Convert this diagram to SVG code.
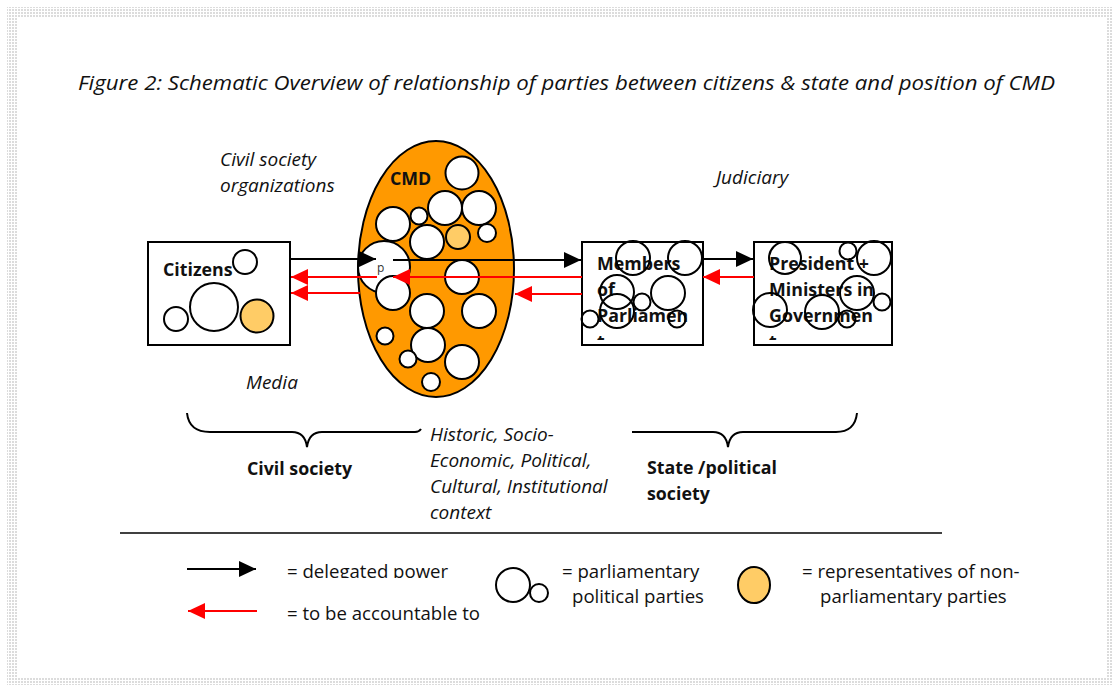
<svg xmlns="http://www.w3.org/2000/svg" width="1112" height="685" viewBox="0 0 1112 685">
<defs>
<style>
text{font-family:"Open Sans","Noto Sans","Liberation Sans",sans-serif;fill:#111;}
.t{font-size:18.6px;}
.i{font-size:19px;font-style:italic;}
.b{font-size:17.8px;font-weight:bold;}
.box{fill:#fff;stroke:#000;stroke-width:2;}
.c{fill:#fff;stroke:#000;stroke-width:2;}
.co{fill:none;stroke:#000;stroke-width:2;}
.or{fill:#FFCC66;stroke:#000;stroke-width:2;}
.blk{stroke:#000;stroke-width:2;fill:none;}
.red{stroke:#FF0000;stroke-width:2;fill:none;}
.brace{stroke:#000;stroke-width:2;fill:none;}
</style>
<pattern id="dots" width="3" height="3" patternUnits="userSpaceOnUse">
<rect x="0" y="0" width="2" height="2" fill="#dcdcdc"/>
</pattern>
<marker id="ab" markerUnits="userSpaceOnUse" markerWidth="18" markerHeight="16" refX="17" refY="8" orient="auto">
<path d="M0,0 L17,8 L0,16 Z" fill="#000"/>
</marker>
<marker id="ar" markerUnits="userSpaceOnUse" markerWidth="18" markerHeight="16" refX="17" refY="8" orient="auto">
<path d="M0,0 L17,8 L0,16 Z" fill="#FF0000"/>
</marker>
<clipPath id="mpclip"><rect x="583" y="243" width="119" height="97"/></clipPath>
<clipPath id="prclip"><rect x="755" y="243" width="136" height="97"/></clipPath>
<clipPath id="lgclip"><rect x="280" y="550" width="200" height="28"/></clipPath>
</defs>
<rect width="1112" height="685" fill="#fff"/>
<path d="M7,7 H1112 V685 H7 Z M18,18 V678 H1107 V18 Z" fill="url(#dots)" fill-rule="evenodd"/>

<text id="title" x="78" y="90" style="font-size:20px;font-style:italic" textLength="977" lengthAdjust="spacingAndGlyphs">Figure 2: Schematic Overview of relationship of parties between citizens &amp; state and position of CMD</text>

<g id="labels">
<text class="i" x="220" y="166">Civil society</text>
<text class="i" x="220" y="192">organizations</text>
<text class="i" x="246" y="389">Media</text>
<text class="i" x="716" y="184">Judiciary</text>
</g>

<g id="citizens">
<rect class="box" x="148" y="242" width="142" height="103"/>
<text class="b" x="163" y="276">Citizens</text>
<circle class="c" cx="245" cy="262" r="12"/>
<circle class="c" cx="214" cy="307" r="24"/>
<circle class="c" cx="176" cy="319" r="12"/>
<circle class="or" cx="257" cy="316" r="16.5"/>
</g>

<g id="cmd">
<ellipse cx="436" cy="269" rx="78" ry="128" fill="#FF9900" stroke="#000" stroke-width="2"/>
<text class="b" x="390" y="185">CMD</text>
<circle class="c" cx="462" cy="173" r="16.5"/>
<circle class="c" cx="445" cy="208" r="17"/>
<circle class="c" cx="479" cy="208" r="17"/>
<circle class="c" cx="419" cy="216" r="8.5"/>
<circle class="c" cx="393" cy="224" r="17"/>
<circle class="c" cx="427" cy="242" r="17"/>
<circle class="or" cx="458" cy="237" r="12"/>
<circle class="c" cx="487" cy="233" r="9"/>
<circle class="c" cx="384" cy="267" r="26"/>
<circle class="c" cx="393" cy="293" r="17"/>
<circle class="c" cx="462" cy="277" r="17"/>
<circle class="c" cx="427" cy="311" r="17"/>
<circle class="c" cx="479" cy="311" r="17"/>
<circle class="c" cx="385" cy="336" r="8.5"/>
<circle class="c" cx="428" cy="345" r="17"/>
<circle class="c" cx="408" cy="359" r="8.5"/>
<circle class="c" cx="462" cy="362" r="17"/>
<circle class="c" cx="431" cy="382" r="9"/>
<text x="377" y="272" style="font-size:12px;fill:#333">p</text>
</g>

<g id="mp">
<rect class="box" x="582" y="242" width="121" height="103"/>
<g clip-path="url(#mpclip)">
<text class="b" x="597" y="270">Members</text>
<text class="b" x="597" y="296">of</text>
<text class="b" x="597" y="322">Parliamen</text>
<text class="b" x="597" y="348">t</text>
</g>
<circle class="co" cx="633" cy="258" r="17"/>
<circle class="co" cx="685" cy="258" r="17"/>
<circle class="co" cx="617" cy="292" r="17"/>
<circle class="co" cx="668" cy="293" r="17"/>
<circle class="co" cx="642" cy="302" r="8.5"/>
<circle class="co" cx="617" cy="311" r="17"/>
<circle class="co" cx="590" cy="319" r="8.5"/>
<circle class="co" cx="677" cy="319" r="8.5"/>
</g>

<g id="president">
<rect class="box" x="754" y="242" width="138" height="103"/>
<g clip-path="url(#prclip)">
<text class="b" x="769" y="270">President +</text>
<text class="b" x="769" y="296">Ministers in</text>
<text class="b" x="769" y="322">Governmen</text>
<text class="b" x="769" y="348">t</text>
</g>
<circle class="co" cx="785" cy="258" r="16"/>
<circle class="co" cx="848" cy="251" r="8.5"/>
<circle class="co" cx="874" cy="258" r="17"/>
<circle class="co" cx="857" cy="293" r="17"/>
<circle class="co" cx="882" cy="302" r="8.5"/>
<circle class="co" cx="770" cy="310" r="17"/>
<circle class="co" cx="822" cy="312" r="17"/>
<circle class="co" cx="847" cy="319" r="8.5"/>
</g>

<g id="connectors">
<line class="blk" x1="290" y1="259" x2="376" y2="259" marker-end="url(#ab)"/>
<line class="blk" x1="393" y1="260" x2="581" y2="260" marker-end="url(#ab)"/>
<line class="blk" x1="703" y1="259" x2="753" y2="259" marker-end="url(#ab)"/>
<line class="red" x1="377" y1="277" x2="291" y2="277" marker-end="url(#ar)"/>
<line class="red" x1="582" y1="277" x2="393" y2="277" marker-end="url(#ar)"/>
<line class="red" x1="360" y1="293" x2="291" y2="293" marker-end="url(#ar)"/>
<line class="red" x1="582" y1="294" x2="515" y2="294" marker-end="url(#ar)"/>
<line class="red" x1="754" y1="277" x2="703" y2="277" marker-end="url(#ar)"/>
</g>

<g id="braces">
<path class="brace" d="M187,413 Q189,432 210,432 L292,432 Q305,432 307,447 Q309,432 322,432 L415,432 Q419,432 421,429"/>
<path class="brace" d="M632,432 L713,432 Q726,432 728,447 Q730,432 743,432 L836,432 Q855,432 857,413"/>
</g>

<g id="groups">
<text class="b" x="247" y="475">Civil society</text>
<text class="i" x="430" y="441">Historic, Socio-</text>
<text class="i" x="430" y="467">Economic, Political,</text>
<text class="i" x="430" y="493">Cultural, Institutional</text>
<text class="i" x="430" y="519">context</text>
<text class="b" x="647" y="474">State /political</text>
<text class="b" x="647" y="500">society</text>
</g>

<line x1="120" y1="533" x2="942" y2="533" stroke="#000" stroke-width="1.3"/>

<g id="legend">
<line class="blk" x1="187" y1="569" x2="256" y2="569" marker-end="url(#ab)"/>
<g clip-path="url(#lgclip)"><text class="t" x="287" y="578">= delegated power</text></g>
<line class="red" x1="257" y1="611" x2="188" y2="611" marker-end="url(#ar)"/>
<text class="t" x="287" y="620">= to be accountable to</text>
<circle class="co" cx="513" cy="585" r="17"/>
<circle class="co" cx="539" cy="593" r="9"/>
<text class="t" x="562" y="578">= parliamentary</text>
<text class="t" x="572" y="603">political parties</text>
<ellipse class="or" cx="754" cy="585" rx="16" ry="18"/>
<text class="t" x="802" y="578">= representatives of non-</text>
<text class="t" x="820" y="603">parliamentary parties</text>
</g>
</svg>
